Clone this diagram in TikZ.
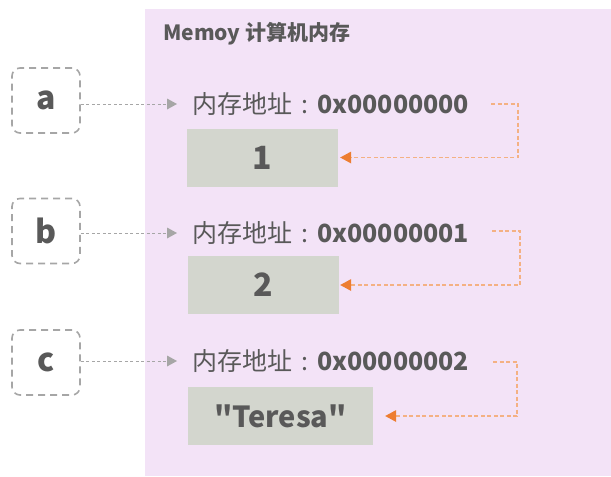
\documentclass[tikz,border=0pt]{standalone}
\usepackage{fontspec}
\newfontfamily\ui{Noto Sans CJK SC}
\usetikzlibrary{arrows.meta}
\definecolor{panelbg}{HTML}{F3E3F7}
\definecolor{cellbg}{HTML}{D3D6CE}
\definecolor{ink}{HTML}{595959}
\definecolor{dashgray}{HTML}{A6A6A6}
\definecolor{orangetip}{HTML}{ED7D31}
\definecolor{orangeline}{HTML}{F4B183}
\newcommand\addrlabel[1]{内存地址\hspace{9pt}:\hspace{9pt}{\fontsize{25}{25}\selectfont\bfseries #1}}
\tikzset{
  varbox/.style={draw=dashgray, line width=1.6pt, dash pattern=on 7pt off 5pt,
    rounded corners=8pt, minimum width=68pt, minimum height=65pt, inner sep=0pt,
    text=ink, font=\ui\fontsize{32}{32}\selectfont\bfseries},
  cellbox/.style={fill=cellbg, minimum height=58pt, inner sep=0pt,
    text=ink, font=\ui\fontsize{32}{32}\selectfont\bfseries},
  addr/.style={anchor=west, inner sep=0pt, text=ink, font=\ui\fontsize{25}{25}\selectfont},
  refarrow/.style={draw=dashgray, line width=0.9pt, dash pattern=on 3pt off 2.5pt,
    -{Triangle[length=10pt,width=11pt,color=dashgray,fill=dashgray,line width=0pt]}},
  ptrarrow/.style={draw=orangeline, line width=1.1pt, dash pattern=on 4pt off 2.5pt,
    -{Triangle[length=11pt,width=12pt,color=orangetip,fill=orangetip,line width=0pt]}}
}
\begin{document}
\begin{tikzpicture}[x=1pt,y=-1pt]
\useasboundingbox (0,0) rectangle (611,477);
% memory panel
\fill[panelbg] (145,9) rectangle (611,476);
\node[anchor=west, inner sep=0pt, text=ink, font=\ui\fontsize{21}{21}\selectfont\bfseries] (title) at (163,34) {Memoy 计算机内存};

% variables
\node[varbox] (va) at (46,100.5) {a};
\node[varbox] (vb) at (46,231) {b};
\node[varbox] (vc) at (46,362.5) {c};

% addresses
\node[addr] (aa) at (192,104) {\addrlabel{0x00000000}};
\node[addr] (ab) at (192,233) {\addrlabel{0x00000001}};
\node[addr] (ac) at (192,361) {\addrlabel{0x00000002}};

% stored values
\node[cellbox, minimum width=151pt] (ca) at (262.5,157.5) {1};
\node[cellbox, minimum width=151pt] (cb) at (263.5,285) {2};
\node[cellbox, minimum width=185pt, font=\ui\fontsize{29}{29}\selectfont\bfseries] (cc) at (280.5,416) {"Teresa"};

% variable -> address
\draw[refarrow] (va.east |- aa.west) -- ([xshift=-15pt]aa.west);
\draw[refarrow] (vb.east |- ab.west) -- ([xshift=-15pt]ab.west);
\draw[refarrow] (vc.east |- ac.west) -- ([xshift=-15pt]ac.west);

% address -> value
\coordinate (ka) at (518,104);
\coordinate (kb) at (520,231);
\coordinate (kc) at (517,362);
\draw[ptrarrow] (491,104) -- (ka) -- (ka |- ca.east) -- ([xshift=2pt]ca.east);
\draw[ptrarrow] (492,231) -- (kb) -- (kb |- cb.east) -- ([xshift=1pt]cb.east);
\draw[ptrarrow] (493,362) -- (kc) -- (kc |- cc.east) -- ([xshift=12pt]cc.east);
\end{tikzpicture}
\end{document}
